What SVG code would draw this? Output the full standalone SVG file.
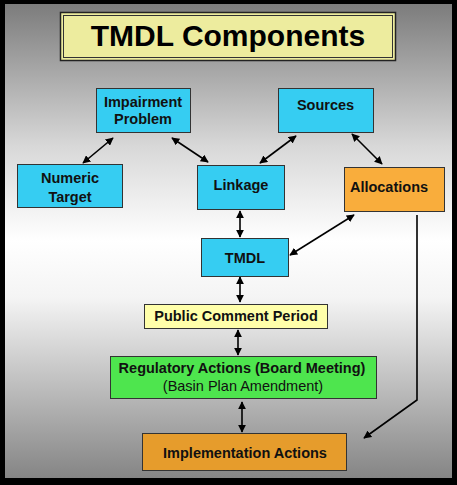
<svg xmlns="http://www.w3.org/2000/svg" width="457" height="485" viewBox="0 0 457 485">
<defs>
<linearGradient id="bg" x1="0" y1="0" x2="0" y2="1">
<stop offset="0" stop-color="#7c7c7c"/>
<stop offset="0.3" stop-color="#d8d8d8"/>
<stop offset="0.5" stop-color="#ffffff"/>
<stop offset="0.62" stop-color="#f4f4f4"/>
<stop offset="1" stop-color="#858585"/>
</linearGradient>
<marker id="ah" viewBox="0 0 10 10" refX="9" refY="5" markerWidth="6" markerHeight="6" orient="auto-start-reverse" markerUnits="userSpaceOnUse">
<path d="M0,0 L10,5 L0,10 z" fill="#000"/>
</marker>
<marker id="ah2" viewBox="0 0 10 10" refX="9" refY="5" markerWidth="8" markerHeight="8" orient="auto-start-reverse" markerUnits="userSpaceOnUse">
<path d="M0,0 L10,5 L0,10 z" fill="#000"/>
</marker>
</defs>
<style>
.box{stroke:#333;stroke-width:1}
.cy{fill:#36cdf2}
.t{font-family:"Liberation Sans",Arial,sans-serif;font-weight:bold;font-size:14.5px;fill:#111;text-anchor:middle}
.n{font-family:"Liberation Sans",Arial,sans-serif;font-weight:normal;font-size:14.5px;fill:#111;text-anchor:middle}
.c line,.c path{stroke:#000;stroke-width:1.6;fill:none;marker-start:url(#ah2);marker-end:url(#ah2)}
.c .one{marker-start:none}
</style>
<rect x="0" y="0" width="457" height="485" fill="#000"/>
<rect x="5" y="4" width="447" height="474" fill="url(#bg)"/>
<g id="title">
<rect x="60.5" y="12.5" width="335" height="48" fill="#edec9e" stroke="#222" stroke-width="1.5"/>
<rect x="63.5" y="15.5" width="329" height="42" fill="none" stroke="#333" stroke-width="1"/>
<text x="228" y="46" style="font-family:'Liberation Sans',Arial,sans-serif;font-weight:bold;font-size:30px;fill:#000;text-anchor:middle">TMDL Components</text>
</g>
<g class="c" id="connectors">
<line x1="113" y1="138" x2="83" y2="163"/>
<line x1="172" y1="138" x2="208" y2="162"/>
<line x1="296" y1="136" x2="260" y2="163"/>
<line x1="352" y1="134" x2="382" y2="164"/>
<line x1="240" y1="211" x2="240" y2="237"/>
<line x1="290" y1="255" x2="354" y2="215"/>
<line x1="240" y1="277" x2="240" y2="302"/>
<line x1="238" y1="330" x2="238" y2="355"/>
<line x1="242" y1="402" x2="242" y2="432"/>
<path class="one" d="M417,215 L417,400 L364,438"/>
</g>
<g id="impairment">
<rect class="box cy" x="96.5" y="88.5" width="94" height="44"/>
<text class="t" x="143" y="107">Impairment</text>
<text class="t" x="143" y="124">Problem</text>
</g>
<g id="sources">
<rect class="box cy" x="278.5" y="88.5" width="95" height="44"/>
<text class="t" x="325.5" y="110">Sources</text>
</g>
<g id="numeric">
<rect class="box cy" x="17.5" y="164.5" width="105" height="43"/>
<text class="t" x="70" y="183">Numeric</text>
<text class="t" x="70" y="202">Target</text>
</g>
<g id="linkage">
<rect class="box cy" x="197.5" y="165.5" width="87" height="44"/>
<text class="t" x="241" y="190">Linkage</text>
</g>
<g id="allocations">
<rect class="box" x="344.5" y="167.5" width="100" height="44" fill="#f9ad3c"/>
<text class="t" x="389" y="192">Allocations</text>
</g>
<g id="tmdl">
<rect class="box cy" x="201.5" y="238.5" width="87" height="38"/>
<text class="t" x="245" y="263">TMDL</text>
</g>
<g id="public">
<rect class="box" x="144.5" y="304.5" width="183" height="24" fill="#ffffaa"/>
<text class="t" x="236" y="321">Public Comment Period</text>
</g>
<g id="regulatory">
<rect class="box" x="110.5" y="356.5" width="266" height="42" fill="#4ee54e"/>
<text class="t" x="242" y="373">Regulatory Actions (Board Meeting)</text>
<text class="n" x="243" y="391">(Basin Plan Amendment)</text>
</g>
<g id="implementation">
<rect class="box" x="142.5" y="433.5" width="204" height="37" fill="#e69c2c"/>
<text class="t" x="245" y="458">Implementation Actions</text>
</g>
</svg>
